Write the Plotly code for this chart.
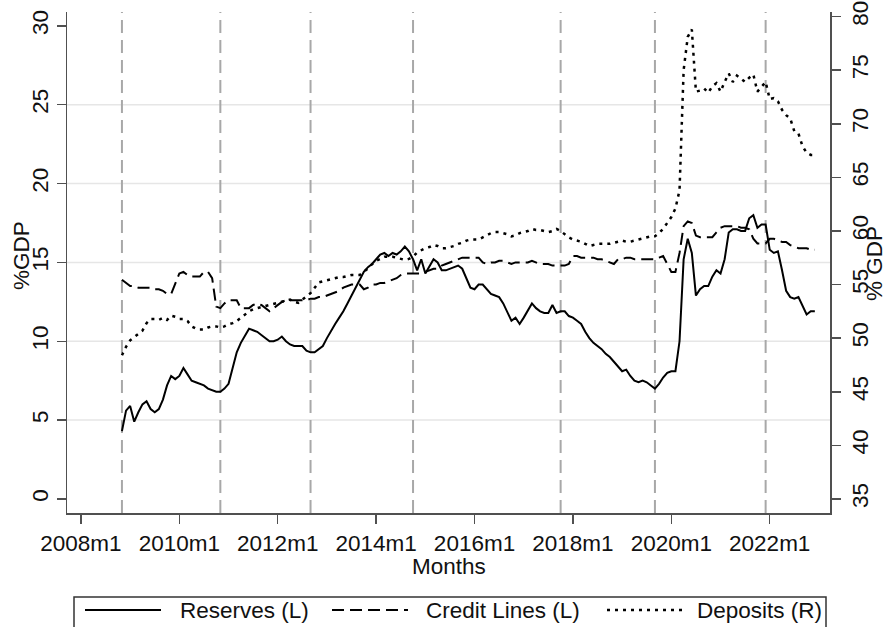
import plotly.graph_objects as go
import pandas as pd

# ---------------- data ----------------
start_period = "2008-11"
end_period = "2022-12"

reserves = [
    4.3, 5.6,
    5.9, 4.9, 5.5, 6.0, 6.2, 5.7, 5.5, 5.7, 6.3, 7.2, 7.8, 7.6,
    7.8, 8.3, 7.9, 7.5, 7.4, 7.3, 7.2, 7.0, 6.9, 6.8, 6.8, 7.0,
    7.3, 8.3, 9.3, 9.9, 10.4, 10.8, 10.7, 10.6, 10.4, 10.2, 10.0, 10.0,
    10.1, 10.3, 10.0, 9.8, 9.7, 9.7, 9.7, 9.4, 9.3, 9.3, 9.5, 9.7,
    10.2, 10.7, 11.1, 11.5, 11.9, 12.4, 12.9, 13.4, 14.0, 14.4, 14.7, 14.9,
    15.2, 15.5, 15.6, 15.4, 15.6, 15.5, 15.7, 16.0, 15.7, 15.2, 14.5, 15.2,
    14.3, 14.8, 15.2, 15.0, 14.5, 14.5, 14.6, 14.7, 14.8, 14.6, 14.0, 13.4,
    13.3, 13.6, 13.6, 13.3, 13.0, 12.9, 12.8, 12.4, 11.9, 11.3, 11.5, 11.1,
    11.5, 12.0, 12.4, 12.1, 11.9, 11.8, 11.8, 12.3, 11.8, 11.9, 11.9, 11.6,
    11.5, 11.3, 11.1, 10.6, 10.2, 9.9, 9.7, 9.5, 9.2, 9.0, 8.7, 8.4,
    8.1, 8.2, 7.8, 7.5, 7.4, 7.5, 7.4, 7.2, 7.0, 7.3, 7.7, 8.0,
    8.1, 8.1, 10.0, 15.2, 16.5, 15.6, 12.9, 13.3, 13.5, 13.5, 14.1, 14.5,
    14.3, 15.2, 16.9, 17.1, 17.1, 17.0, 17.0, 17.8, 18.0, 17.2, 17.4, 17.4,
    15.8, 15.6, 15.7, 14.5, 13.2, 12.8, 12.7, 12.8, 12.2, 11.7, 11.9, 11.9,
]

credit_lines = [
    13.9, 13.7,
    13.5, 13.5, 13.4, 13.4, 13.4, 13.4, 13.3, 13.3, 13.2, 13.0, 13.0, 13.7,
    14.3, 14.4, 14.2, 14.1, 14.1, 14.1, 14.4, 14.4, 14.0, 12.2, 12.1, 12.4,
    12.6, 12.6, 12.6, 12.1, 12.1, 12.1, 12.3, 12.4, 12.3, 12.1, 11.9, 12.1,
    12.3, 12.5, 12.6, 12.6, 12.6, 12.6, 12.6, 12.6, 12.7, 12.7, 12.8, 12.8,
    12.9, 13.0, 13.1, 13.2, 13.4, 13.5, 13.6, 13.6, 13.6, 13.3, 13.4, 13.6,
    13.6, 13.7, 13.7, 13.8, 13.9, 14.0, 14.2, 14.3, 14.3, 14.3, 14.3, 14.3,
    14.4, 14.5, 14.6, 14.6, 14.8, 14.9, 15.0, 15.1, 15.2, 15.3, 15.3, 15.3,
    15.3, 15.3, 15.0, 14.9, 15.0, 15.0, 15.1, 15.1, 15.0, 14.9, 15.0, 15.0,
    15.0, 15.0, 15.1, 15.0, 14.9, 14.9, 14.9, 14.8, 14.8, 14.8, 14.8, 14.9,
    15.4, 15.4, 15.3, 15.3, 15.3, 15.3, 15.2, 15.2, 15.1, 15.0, 14.9, 15.2,
    15.2, 15.3, 15.3, 15.2, 15.2, 15.2, 15.2, 15.2, 15.2, 15.3, 15.4, 14.9,
    14.4, 14.4, 15.6, 17.3, 17.6, 17.5, 16.7, 16.6, 16.6, 16.6, 16.6, 16.9,
    17.2, 17.3, 17.3, 17.3, 17.3, 17.2, 17.2, 17.1, 16.5, 16.2, 16.2, 16.2,
    16.5, 16.5, 16.4, 16.3, 16.3, 16.1, 16.0, 15.9, 15.9, 15.9, 15.8, 15.8,
]

deposits = [
    48.4, 49.2,
    49.8, 50.1, 50.4, 50.7, 51.4, 51.8, 51.8, 51.7, 51.9, 51.7, 52.1, 52.0,
    51.8, 51.8, 51.6, 51.1, 50.9, 50.8, 50.8, 51.0, 51.1, 51.1, 51.0, 51.1,
    51.3, 51.4, 51.6, 51.9, 52.2, 52.5, 52.7, 52.8, 52.9, 53.0, 53.1, 53.2,
    53.3, 53.4, 53.5, 53.6, 53.4, 53.3, 53.6, 53.9, 54.2, 54.7, 55.2, 55.3,
    55.4, 55.5, 55.6, 55.7, 55.7, 55.8, 55.9, 55.9, 55.9, 56.2, 56.5, 56.9,
    57.2, 57.4, 57.6, 57.6, 57.6, 57.5, 57.4, 57.3, 57.4, 57.6, 58.0, 58.2,
    58.4, 58.5, 58.7, 58.6, 58.4, 58.4, 58.5, 58.6, 58.8, 58.9, 59.1, 59.2,
    59.2, 59.2, 59.4, 59.6, 59.8, 59.9, 59.9, 59.8, 59.7, 59.5, 59.6, 59.8,
    59.9, 60.0, 60.2, 60.1, 60.1, 60.0, 59.9, 60.0, 60.2, 60.0, 59.7, 59.4,
    59.2, 59.1, 59.0, 58.8, 58.6, 58.7, 58.8, 58.8, 58.8, 58.8, 58.9, 59.0,
    59.1, 59.0, 59.0, 59.1, 59.2, 59.3, 59.4, 59.5, 59.5, 59.8, 60.2, 60.7,
    61.3, 62.1, 63.8, 75.0, 78.1, 78.8, 73.0, 73.1, 73.3, 72.9, 73.5, 73.8,
    73.0, 73.9, 74.7, 73.9, 74.5, 74.2, 73.9, 74.3, 74.6, 73.0, 73.5, 73.9,
    72.3, 72.4, 72.1, 71.3, 70.8, 70.5, 69.3, 69.1, 67.9, 67.3, 67.1, 67.1,
]

event_months = ["2008-11", "2010-11", "2012-09", "2014-10", "2017-10", "2019-09", "2021-12"]
x_tick_labels = ["2008m1", "2010m1", "2012m1", "2014m1", "2016m1", "2018m1", "2020m1", "2022m1"]
left_ticks = [0, 5, 10, 15, 20, 25, 30]
right_ticks = [35, 40, 45, 50, 55, 60, 65, 70, 75, 80]
grid_values = [5, 10, 15, 20, 25]
legend_labels = ["Reserves (L)", "Credit Lines (L)", "Deposits (R)"]


def tm(period):
    p = pd.Period(period, freq="M")
    return (p.year - 1960) * 12 + (p.month - 1)


months = pd.period_range(start_period, end_period, freq="M")
x = [tm(str(p)) for p in months]
x_tick_vals = [tm(lbl.replace("m1", "-01")) for lbl in x_tick_labels]

FONT = "Liberation Sans, Arial, sans-serif"
FS = 22.5
AXC = "#505050"
TXT = "#111111"

fig = go.Figure()
fig.add_trace(go.Scatter(x=x, y=reserves, mode="lines", name=legend_labels[0],
                         line=dict(color="black", width=2), showlegend=False))
fig.add_trace(go.Scatter(x=x, y=credit_lines, mode="lines", name=legend_labels[1],
                         line=dict(color="black", width=2, dash="12px,6px"), showlegend=False))
fig.add_trace(go.Scatter(x=x, y=deposits, mode="lines", name=legend_labels[2], yaxis="y2",
                         line=dict(color="black", width=2.5, dash="3px,5px"), showlegend=False))

shapes = []
for v in grid_values:
    shapes.append(dict(type="line", xref="paper", x0=0, x1=1, yref="y", y0=v, y1=v,
                       line=dict(color="#e6e6e6", width=1.5), layer="below"))
for em in event_months:
    xv = tm(em)
    shapes.append(dict(type="line", xref="x", x0=xv, x1=xv, yref="paper", y0=0, y1=1,
                       line=dict(color="#a8a8a8", width=2, dash="13px,7px"), layer="below"))

# target pixel geometry of the plot area in the screenshot
L, R, T, B = 67, 830, 12, 513
W, H = 889, 627


def px(xp):
    return (xp - L) / (R - L)


def py(yp):
    return (B - yp) / (B - T)


shapes.append(dict(type="rect", xref="paper", yref="paper", x0=px(74), x1=px(826),
                    y0=py(597), y1=py(650), line=dict(color="#333333", width=1.5),
                    fillcolor="white", layer="above"))
leg_y = py(610)
samples = [(85, 161, None, 2), (332, 408, "12px,6px", 2), (607, 682, "3px,5px", 2.5)]
for (a, b, d, w) in samples:
    ln = dict(color="black", width=w)
    if d:
        ln["dash"] = d
    shapes.append(dict(type="line", xref="paper", yref="paper", x0=px(a), x1=px(b),
                       y0=leg_y, y1=leg_y, line=ln, layer="above"))

annotations = []
for lbl, xl in zip(legend_labels, [178, 424, 695]):
    annotations.append(dict(text=lbl, xref="paper", yref="paper", x=px(xl), y=leg_y,
                            xanchor="left", yanchor="middle", showarrow=False,
                            font=dict(family=FONT, size=FS, color=TXT)))
annotations.append(dict(text="%GDP", xref="paper", yref="paper", x=px(21), y=py(256),
                        xanchor="center", yanchor="middle", textangle=-90, showarrow=False,
                        font=dict(family=FONT, size=FS, color=TXT)))
annotations.append(dict(text="% GDP", xref="paper", yref="paper", x=px(874), y=py(264),
                        xanchor="center", yanchor="middle", textangle=-90, showarrow=False,
                        font=dict(family=FONT, size=FS, color=TXT)))
annotations.append(dict(text="Months", xref="paper", yref="paper", x=0.5, y=py(566),
                        xanchor="center", yanchor="middle", showarrow=False,
                        font=dict(family=FONT, size=FS, color=TXT)))

axis_common = dict(showgrid=False, zeroline=False, showline=True, linecolor=AXC, linewidth=1.5,
                   ticks="outside", ticklen=9, tickwidth=1.5, tickcolor=AXC, automargin=False,
                   ticklabeloverflow="allow",
                   tickfont=dict(family=FONT, size=FS, color=TXT))

fig.update_layout(
    template="none",
    width=W, height=H,
    margin=dict(l=L, r=W - R, t=T, b=H - B, pad=0, autoexpand=False),
    paper_bgcolor="white", plot_bgcolor="white",
    font=dict(family=FONT, size=FS, color=TXT),
    showlegend=False,
    shapes=shapes, annotations=annotations,
    xaxis=dict(range=[572.6, 758.7], tickvals=x_tick_vals, ticktext=x_tick_labels, **axis_common),
    yaxis=dict(range=[-0.89, 30.88], tickvals=left_ticks, tickangle=-90, **axis_common),
    yaxis2=dict(range=[33.69, 80.43], tickvals=right_ticks, tickangle=-90,
                overlaying="y", side="right", **axis_common),
)

fig.write_html("out.html",
               config={"displayModeBar": False, "staticPlot": True},
               post_script="document.body.style.margin='0px';document.body.style.overflow='hidden';")
